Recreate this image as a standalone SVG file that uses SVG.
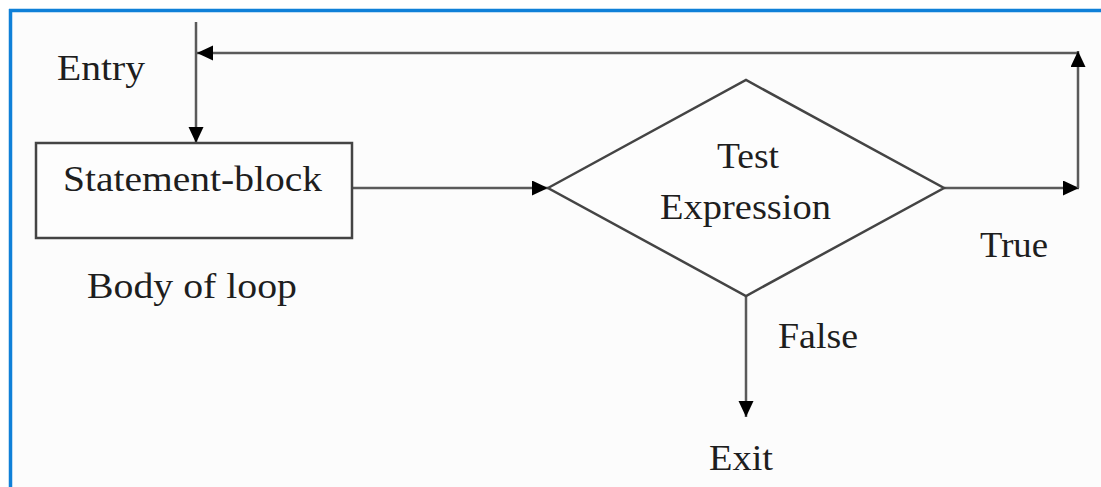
<svg xmlns="http://www.w3.org/2000/svg" width="1101" height="487" viewBox="0 0 1101 487">
  <style>
    .t { font-family: "Liberation Serif", "Times New Roman", serif; font-size: 36px; fill: #1e1e1e; }
    .ln { stroke: #5a5a5a; stroke-width: 2.5; fill: none; }
    .shape { stroke: #444; stroke-width: 2.5; fill: #fdfdfd; }
  </style>
  <defs>
    <marker id="arr" markerUnits="userSpaceOnUse" markerWidth="18" markerHeight="16" refX="16" refY="7.5" orient="auto">
      <path d="M0,0 L16,7.5 L0,15 z" fill="#000"/>
    </marker>
  </defs>
  <rect x="0" y="0" width="1101" height="487" fill="#ffffff"/>
  <rect x="10" y="10" width="1091" height="477" fill="#fcfcfc"/>
  <g id="border">
    <line x1="10.5" y1="9" x2="10.5" y2="487" stroke="#0f80d8" stroke-width="3.5"/>
    <line x1="9" y1="10.5" x2="1101" y2="10.5" stroke="#0f80d8" stroke-width="3.5"/>
  </g>
  <g id="connectors">
    <line class="ln" x1="196" y1="22" x2="196" y2="143" marker-end="url(#arr)"/>
    <line class="ln" x1="1078" y1="53" x2="197" y2="53" marker-end="url(#arr)"/>
    <line class="ln" x1="352" y1="188" x2="548" y2="188" marker-end="url(#arr)"/>
    <line class="ln" x1="944" y1="188" x2="1079" y2="188" marker-end="url(#arr)"/>
    <line class="ln" x1="1078" y1="188" x2="1078" y2="51" marker-end="url(#arr)"/>
    <line class="ln" x1="746" y1="296" x2="746" y2="417" marker-end="url(#arr)"/>
  </g>
  <g id="statement-block">
    <rect class="shape" x="36" y="143" width="316" height="95"/>
    <text class="t" x="63" y="191" textLength="259" lengthAdjust="spacingAndGlyphs">Statement-block</text>
  </g>
  <g id="test-expression">
    <polygon class="shape" points="548,188 746,80 944,188 746,296"/>
    <text class="t" x="717" y="168" textLength="62" lengthAdjust="spacingAndGlyphs">Test</text>
    <text class="t" x="660" y="219" textLength="171" lengthAdjust="spacingAndGlyphs">Expression</text>
  </g>
  <g id="labels">
    <text class="t" x="57" y="80" textLength="88" lengthAdjust="spacingAndGlyphs">Entry</text>
    <text class="t" x="87" y="298" textLength="210" lengthAdjust="spacingAndGlyphs">Body of loop</text>
    <text class="t" x="980" y="257" textLength="68" lengthAdjust="spacingAndGlyphs">True</text>
    <text class="t" x="778" y="348" textLength="80" lengthAdjust="spacingAndGlyphs">False</text>
    <text class="t" x="709" y="470" textLength="64" lengthAdjust="spacingAndGlyphs">Exit</text>
  </g>
</svg>
